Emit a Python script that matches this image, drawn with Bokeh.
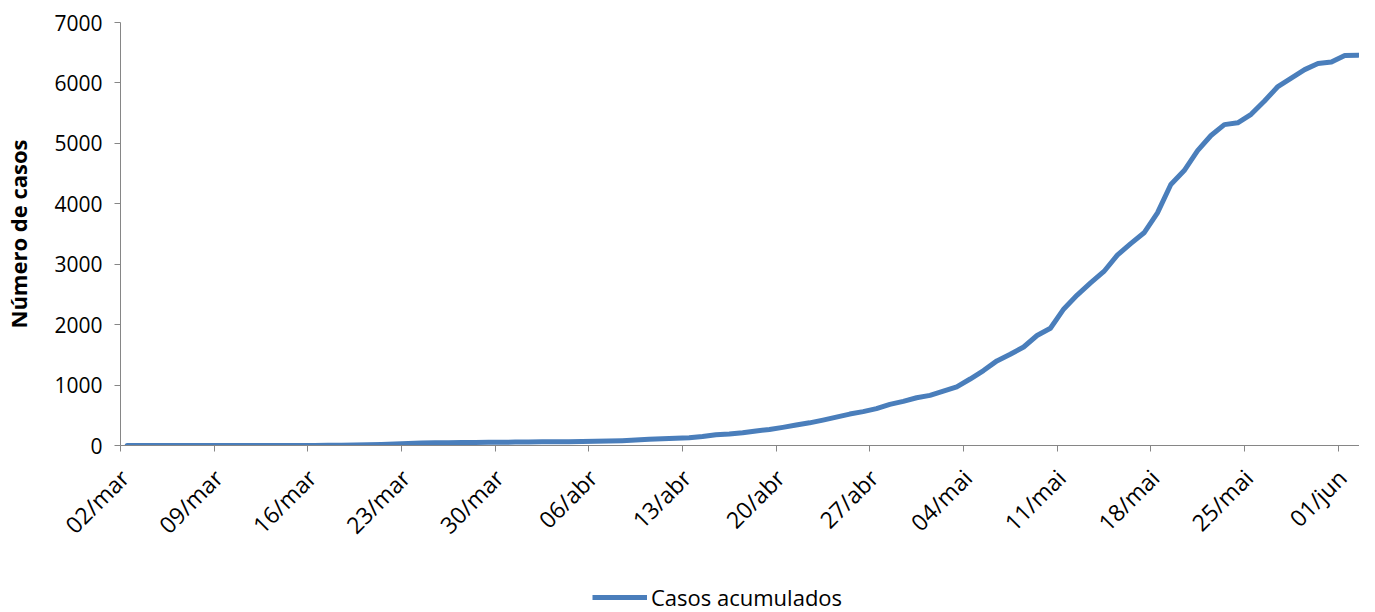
from bokeh.plotting import figure
from bokeh.models import Range1d, FixedTicker, Legend, LegendItem
from bokeh.layouts import column
from bokeh.embed import file_html
from bokeh.resources import INLINE
import math

# Daily accumulated cases, 02/mar .. 02/jun (93 days)
casos = [
    0, 0, 0, 0, 0, 0, 0, 0, 0, 0, 0, 0, 0, 0,
    1, 3, 5, 8, 12, 18, 25, 33, 40, 44, 46, 48, 50, 52,
    54, 56, 58, 60, 62, 64, 67, 70, 74, 80, 90, 102, 112, 122,
    130, 150, 178, 190, 210, 240, 265, 300, 340, 375, 420, 470,
    520, 560, 610, 680, 730, 790, 830, 900, 970, 1100, 1240, 1400,
    1510, 1630, 1820, 1940, 2260, 2490, 2690, 2880, 3150, 3340, 3520,
    3850, 4320, 4550, 4880, 5130, 5310, 5340, 5480, 5700, 5940, 6080,
    6220, 6320, 6345, 6455, 6460,
]
tick_labels = ["02/mar", "09/mar", "16/mar", "23/mar", "30/mar", "06/abr", "13/abr",
               "20/abr", "27/abr", "04/mai", "11/mai", "18/mai", "25/mai", "01/jun"]
tick_days = [0, 7, 14, 21, 28, 35, 42, 49, 56, 63, 70, 77, 84, 91]
y_ticks = [0, 1000, 2000, 3000, 4000, 5000, 6000, 7000]
series_name = "Casos acumulados"

FONT = "Open Sans"
AXIS_COLOR = "#868686"
LINE_COLOR = "#4a7ebb"
LABEL_SHIFT = 0.3  # rotated labels sit a little to the right of their tick (Excel style)

# category centres (Excel "between tick marks")
xs = [i + 0.5 for i in range(len(casos))]

p = figure(width=1359, height=585, output_backend="svg", toolbar_location=None,
           x_range=Range1d(0, 92.6), y_range=Range1d(0, 7000),
           min_border_left=115, min_border_right=0, min_border_top=22, min_border_bottom=140)
p.outline_line_color = None
p.xgrid.visible = False
p.ygrid.visible = False
p.background_fill_color = "white"
p.border_fill_color = "white"

r = p.line(xs, casos, line_color=LINE_COLOR, line_width=5, line_join="round", line_cap="round")

for ax in (p.xaxis[0], p.yaxis[0]):
    ax.axis_line_color = AXIS_COLOR
    ax.major_tick_line_color = AXIS_COLOR
    ax.minor_tick_line_color = None
    ax.major_tick_in = 0
    ax.major_tick_out = 6
    ax.major_label_text_font = FONT
    ax.major_label_text_font_size = "21px"
    ax.major_label_text_color = "black"

# x axis: tick marks (minor ticks) on day boundaries, labels slightly right of them
xa = p.xaxis[0]
xa.ticker = FixedTicker(ticks=[d + LABEL_SHIFT for d in tick_days], minor_ticks=tick_days)
xa.major_label_overrides = {d + LABEL_SHIFT: l for d, l in zip(tick_days, tick_labels)}
xa.major_tick_line_color = None
xa.major_tick_out = 0
xa.minor_tick_line_color = AXIS_COLOR
xa.minor_tick_in = 0
xa.minor_tick_out = 6
xa.major_label_orientation = math.pi / 4
xa.major_label_standoff = 22
xa.major_label_text_font_size = "23px"

p.yaxis.ticker = FixedTicker(ticks=y_ticks)
p.yaxis.major_label_standoff = 12
p.yaxis.axis_label = "Número de casos"
p.yaxis.axis_label_text_font = FONT
p.yaxis.axis_label_text_font_style = "bold"
p.yaxis.axis_label_text_font_size = "22px"
p.yaxis.axis_label_standoff = 18
p.yaxis.axis_label_text_color = "black"

# legend strip below the chart (its sample line sits outside the strip's range)
leg = figure(width=1359, height=27, output_backend="svg", toolbar_location=None,
             x_range=Range1d(0, 1), y_range=Range1d(0, 1),
             min_border=0, min_border_left=0, min_border_right=0,
             min_border_top=0, min_border_bottom=0)
leg.axis.visible = False
leg.grid.visible = False
leg.outline_line_color = None
leg.border_fill_color = "white"
lr = leg.line([5, 6], [5, 6], line_color=LINE_COLOR, line_width=5)
legend = Legend(items=[LegendItem(label=series_name, renderers=[lr])],
                location=(472, 0), orientation="horizontal",
                border_line_color=None, background_fill_alpha=0,
                label_text_font=FONT, label_text_font_size="22px",
                label_text_color="black",
                glyph_width=55, glyph_height=20, label_standoff=4, padding=0, margin=0)
leg.add_layout(legend, "center")

open("out.html", "w").write(file_html(column(p, leg, spacing=0), INLINE))
